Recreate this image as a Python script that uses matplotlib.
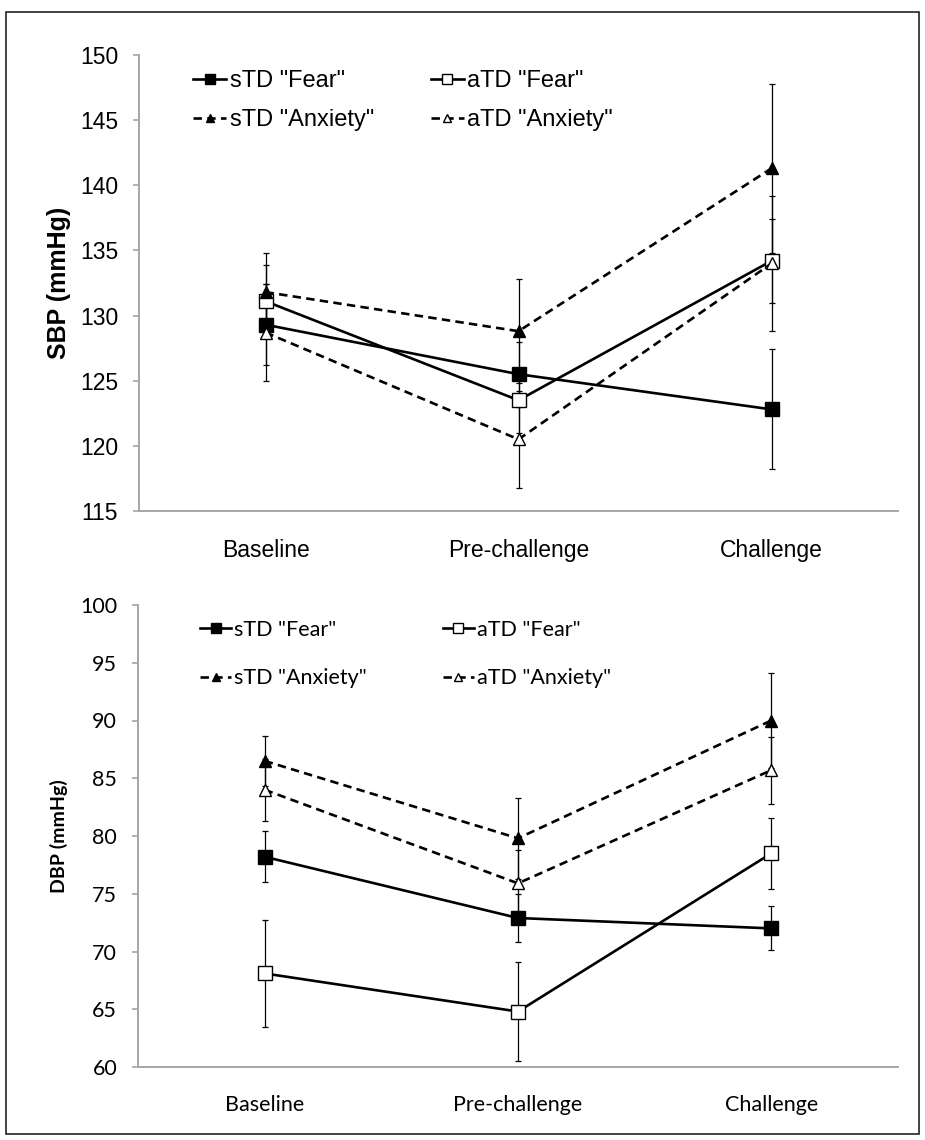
import matplotlib
matplotlib.use("Agg")
import matplotlib.pyplot as plt
from matplotlib.patches import Rectangle

# categories and series labels
categories = ["Baseline", "Pre-challenge", "Challenge"]
series_labels = ['sTD "Fear"', 'aTD "Fear"', 'sTD "Anxiety"', 'aTD "Anxiety"']

# SBP (mmHg) means and error bar half-widths
sbp_std_fear = [129.3, 125.5, 122.8]
sbp_std_fear_err = [3.1, 2.5, 4.6]
sbp_atd_fear = [131.1, 123.5, 134.2]
sbp_atd_fear_err = [2.8, 2.5, 3.2]
sbp_std_anx = [131.8, 128.8, 141.3]
sbp_std_anx_err = [3.0, 4.0, 6.5]
sbp_atd_anx = [128.7, 120.5, 134.0]
sbp_atd_anx_err = [3.7, 3.7, 5.2]

# DBP (mmHg) means and error bar half-widths
dbp_std_fear = [78.2, 72.9, 72.0]
dbp_std_fear_err = [2.2, 2.1, 1.9]
dbp_atd_fear = [68.1, 64.8, 78.5]
dbp_atd_fear_err = [4.6, 4.3, 3.1]
dbp_std_anx = [86.5, 79.8, 90.0]
dbp_std_anx_err = [2.2, 3.5, 4.1]
dbp_atd_anx = [84.0, 75.9, 85.7]
dbp_atd_anx_err = [2.7, 2.9, 2.9]

W, H = 925, 1140
AXIS_GRAY = "#a6a6a6"


def draw_panel(ax, data, ylim, yticks, ylabel, font, fs, lab_fs, lab_x,
               leg_anchor, leg_fs, leg_spacing, col_spacing, handle_len):
    x = list(range(len(categories)))
    styles = [
        dict(ls="-", marker="s", mfc="black", ms=10),
        dict(ls="-", marker="s", mfc="white", ms=10.5),
        dict(ls=(0, (3.2, 2.0)), marker="^", mfc="black", ms=9),
        dict(ls=(0, (3.2, 2.0)), marker="^", mfc="white", ms=9),
    ]
    handles = []
    for (vals, errs), st, lab in zip(data, styles, series_labels):
        ax.errorbar(x, vals, yerr=errs, fmt="none", ecolor="black",
                    elinewidth=0.9, capsize=2.5, capthick=0.9, zorder=2)
        ln, = ax.plot(x, vals, color="black", lw=1.9, ls=st["ls"],
                      marker=st["marker"], mfc=st["mfc"], mec="black",
                      mew=1.0, ms=st["ms"], label=lab, zorder=3)
        handles.append(ln)

    ax.set_xlim(-0.5, len(categories) - 0.5)
    ax.set_ylim(*ylim)
    ax.set_yticks(yticks)
    ax.set_xticks(x)
    ax.set_xticklabels(categories, fontsize=fs, family=font)
    ax.set_yticklabels([str(t) for t in yticks], fontsize=fs, family=font)
    ax.tick_params(axis="x", length=0, pad=20)
    ax.tick_params(axis="y", length=4, width=1.2, color=AXIS_GRAY,
                   direction="out", pad=11)
    for side in ["top", "right"]:
        ax.spines[side].set_visible(False)
    for side in ["left", "bottom"]:
        ax.spines[side].set_color(AXIS_GRAY)
        ax.spines[side].set_linewidth(1.4)
    ax.set_ylabel(ylabel, fontsize=lab_fs, fontweight="bold", family=font)
    ax.yaxis.set_label_coords(lab_x, 0.5)

    # legend order: column-wise -> sTD Fear, sTD Anxiety | aTD Fear, aTD Anxiety
    order = [0, 2, 1, 3]
    ax.legend([handles[i] for i in order], [series_labels[i] for i in order],
              ncol=2, loc="upper left", bbox_to_anchor=leg_anchor,
              bbox_transform=ax.figure.transFigure, frameon=False,
              borderpad=0, borderaxespad=0, handlelength=handle_len,
              handletextpad=0.15, columnspacing=col_spacing,
              labelspacing=leg_spacing, markerscale=0.7,
              prop={"family": font, "size": leg_fs})


fig = plt.figure(figsize=(W / 100, H / 100), dpi=100)

ax1 = fig.add_axes([139 / W, 1 - 511 / H, 759 / W, 456 / H])
draw_panel(ax1,
           [(sbp_std_fear, sbp_std_fear_err), (sbp_atd_fear, sbp_atd_fear_err),
            (sbp_std_anx, sbp_std_anx_err), (sbp_atd_anx, sbp_atd_anx_err)],
           (115, 150), list(range(115, 151, 5)), "SBP (mmHg)",
           "Liberation Sans", 16.5, 18, (71 - 139) / 759,
           (193 / W, 1 - 70 / H), 17, 0.73, 2.4, 1.4)

ax2 = fig.add_axes([138 / W, 1 - 1067 / H, 760 / W, 462 / H])
draw_panel(ax2,
           [(dbp_std_fear, dbp_std_fear_err), (dbp_atd_fear, dbp_atd_fear_err),
            (dbp_std_anx, dbp_std_anx_err), (dbp_atd_anx, dbp_atd_anx_err)],
           (60, 100), list(range(60, 101, 5)), "DBP (mmHg)",
           "Lato", 15.5, 14, (68 - 138) / 760,
           (200 / W, 1 - 620 / H), 15.5, 1.32, 3.5, 1.45)

# thin frame around the whole figure
fig.patches.append(Rectangle((6 / W, 1 - 1134 / H), 913 / W, 1122 / H,
                             transform=fig.transFigure, fill=False,
                             edgecolor="#222222", lw=1.2))

fig.savefig("out.png", dpi=100)
